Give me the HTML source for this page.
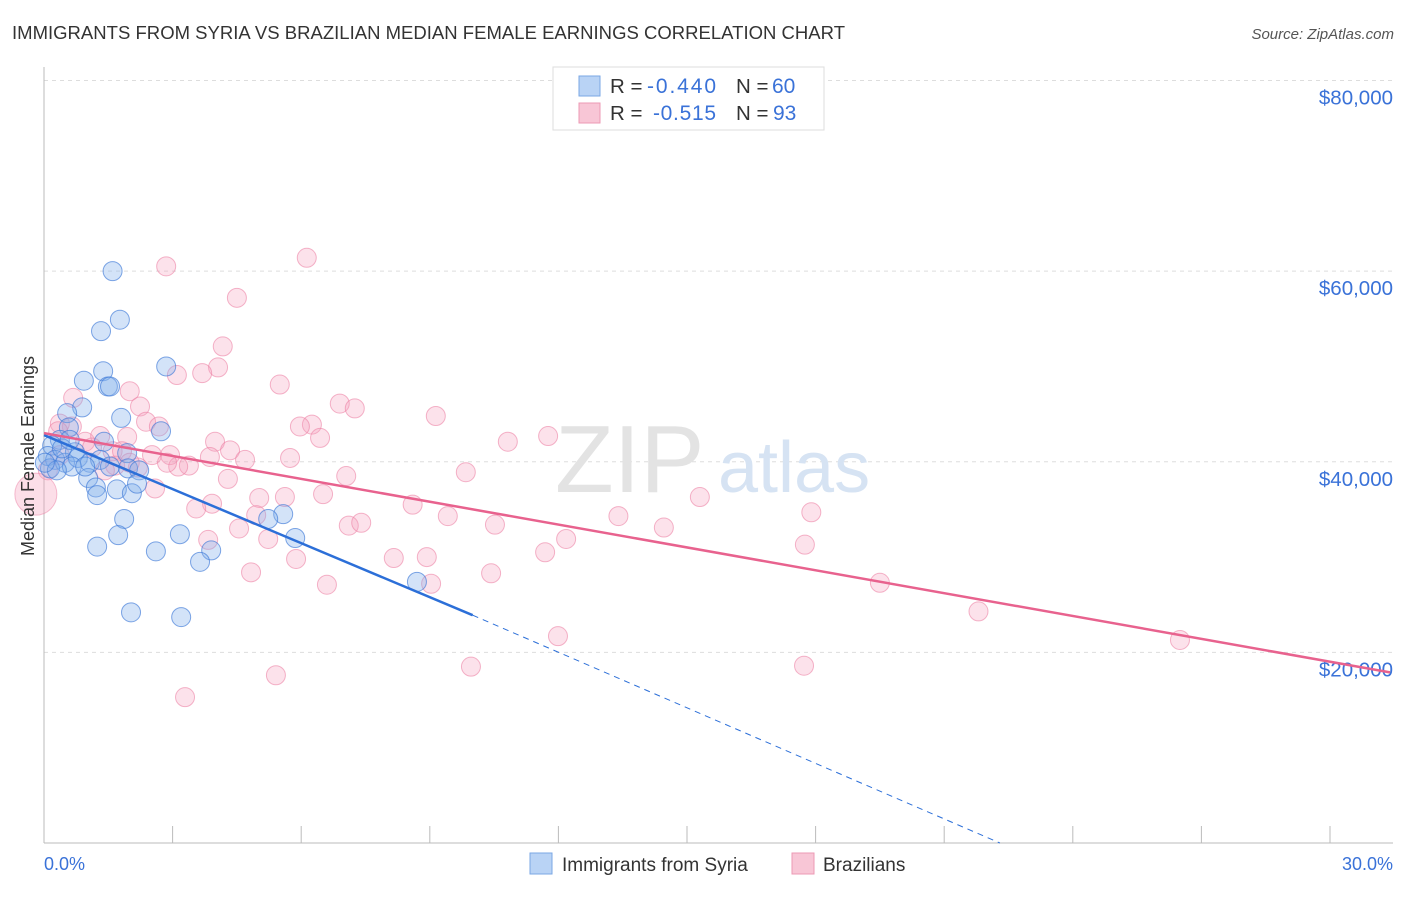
<!DOCTYPE html>
<html><head><meta charset="utf-8"><style>
body{margin:0;background:#fff;font-family:"Liberation Sans",sans-serif}
svg text{font-family:"Liberation Sans",sans-serif}
</style></head><body>
<svg id="chart" width="1406" height="892">
<text x="12" y="39" font-size="18.5" fill="#333" textLength="833">IMMIGRANTS FROM SYRIA VS BRAZILIAN MEDIAN FEMALE EARNINGS CORRELATION CHART</text>
<text x="1394" y="39" font-size="15" fill="#555" font-style="italic" text-anchor="end">Source: ZipAtlas.com</text>
<g id="grid"></g>
<text x="555" y="492" font-size="96" fill="#e3e3e3" font-family="Liberation Serif">ZIP</text>
<text x="718" y="492" font-size="72" fill="#d6e3f3">atlas</text>
<g id="pts"></g>
<g id="lines"></g>
<g>
<rect x="553" y="67" width="271" height="63" fill="#fff" stroke="#ddd"/>
<rect x="579" y="76" width="21" height="20" fill="#b9d3f5" stroke="#7aa7e4"/>
<rect x="579" y="103" width="21" height="20" fill="#f8c6d6" stroke="#ec9ab4"/>
<text x="610" y="93" font-size="20.5" fill="#333">R =</text>
<text x="647" y="93" font-size="21" fill="#3a72d8" textLength="69">-0.440</text>
<text x="736" y="93" font-size="20.5" fill="#333">N =</text>
<text x="772" y="93" font-size="21" fill="#3a72d8">60</text>
<text x="610" y="120" font-size="20.5" fill="#333">R =</text>
<text x="653" y="120" font-size="21" fill="#3a72d8" textLength="63">-0.515</text>
<text x="736" y="120" font-size="20.5" fill="#333">N =</text>
<text x="773" y="120" font-size="21" fill="#3a72d8">93</text>
</g>
<text transform="translate(34,456) rotate(-90)" font-size="18" fill="#333" text-anchor="middle">Median Female Earnings</text>
<text x="44" y="870" font-size="18" fill="#3a72d8">0.0%</text>
<text x="1393" y="870" font-size="18" fill="#3a72d8" text-anchor="end">30.0%</text>
<g>
<rect x="530" y="853" width="22" height="21" fill="#b9d3f5" stroke="#7aa7e4"/>
<text x="562" y="871" font-size="19" fill="#333">Immigrants from Syria</text>
<rect x="792" y="853" width="22" height="21" fill="#f8c6d6" stroke="#ec9ab4"/>
<text x="823" y="871" font-size="19" fill="#333">Brazilians</text>
</g>
</svg>
<script>
const yTicks=[20000,40000,60000,80000];
const yTickLabels=["$20,000","$40,000","$60,000","$80,000"];
const xTicks=[0,3,6,9,12,15,18,21,24,27,30];
const syriaX=[1.6,1.77,1.33,2.85,1.38,0.93,1.49,1.54,0.89,0.54,1.8,0.58,2.73,1.4,0.37,0.19,0.72,0.09,0.26,0.49,0.79,1.07,1.31,1.94,0.65,0.14,0.3,1.96,2.22,1.03,1.7,1.21,1.24,2.05,2.17,1.87,5.58,5.23,5.86,1.73,3.17,1.24,2.61,3.9,3.64,8.7,2.03,3.2,0.02,0.42,0.96,1.54,0.6];
const syriaY=[60000,54900,53700,50000,49500,48500,47900,47900,45700,45100,44600,43600,43200,42100,42300,41700,41000,40600,40200,39900,40400,39900,40200,40900,39500,39300,39100,39300,39100,38300,37100,37300,36500,36700,37700,34000,34500,34000,32000,32300,32400,31100,30600,30700,29500,27400,24200,23700,39900,41400,39500,39500,42300];
const brazX=[2.85,6.13,4.5,4.17,4.06,3.1,3.69,5.5,2.0,6.9,7.25,2.24,9.14,2.38,2.68,6.25,5.97,11.76,10.82,6.44,3.99,4.34,1.94,0.96,0.65,0.37,0.33,0.68,1.31,2.52,2.94,1.6,4.69,5.74,3.38,3.13,2.87,2.19,1.66,9.84,7.05,4.29,2.59,6.51,5.02,5.62,15.3,3.92,8.6,3.55,9.42,13.4,17.9,4.95,7.11,7.4,4.55,10.52,14.46,12.18,5.23,3.83,17.75,11.69,8.16,8.93,5.88,4.83,10.43,6.6,9.03,19.5,21.8,11.99,26.5,9.96,17.73,5.41,3.29,0.09,0.37,1.12,1.82,1.42,2.0,3.87];
const brazY=[60500,61400,57200,52100,49900,49100,49300,48100,47400,46100,45600,45800,44800,44200,43700,43900,43700,42700,42100,42500,42100,41200,42600,42100,43700,44000,43200,46700,42700,40700,40700,41100,40200,40400,39600,39500,39900,39400,39600,38900,38500,38200,37200,36600,36200,36300,36300,35600,35500,35100,34300,34300,34700,34400,33300,33600,33000,33400,33100,31900,31900,31800,31300,30500,29900,30000,29800,28400,28300,27100,27200,27300,24300,21700,21300,18500,18600,17600,15300,39100,40700,41500,41100,39100,39900,40500];
const bigX=[-0.19], bigY=[36600];
const syriaTrend=[[0,42800],[10,23900],[22.3,0]];
const brazTrend=[[0,43000],[31.4,17900]];
const NS="http://www.w3.org/2000/svg";
const sx=v=>44+v*(1330-44)/30;
const sy=v=>843-v*(843-80.5)/80000;
function mk(t,a,p){const e=document.createElementNS(NS,t);for(const k in a)e.setAttribute(k,a[k]);p.appendChild(e);return e;}
const grid=document.getElementById('grid');
yTicks.forEach((v,i)=>{
 const l=mk('line',{x1:44,x2:1393,y1:sy(v),y2:sy(v),stroke:'#ddd','stroke-dasharray':'4,4'},grid);
 
 
 const t=mk('text',{x:1393,y:sy(v)+24,'font-size':20.5,fill:'#3a72d8','text-anchor':'end'},grid);
 t.textContent=yTickLabels[i];
 
 
});
mk('line',{x1:44,x2:44,y1:67,y2:843,stroke:'#bbb'},grid);
mk('line',{x1:44,x2:1393,y1:843,y2:843,stroke:'#bbb'},grid);
xTicks.forEach(v=>{const l=mk('line',{x1:sx(v),x2:sx(v),y1:826,y2:843,stroke:'#bbb'},grid);
 
 });
const pts=document.getElementById('pts');
brazX.forEach((x,i)=>{const c=mk('circle',{cx:sx(x),cy:sy(brazY[i]),r:9.5,fill:'rgba(245,160,188,0.3)',stroke:'rgba(236,130,165,0.6)'},pts);
 
 });
bigX.forEach((x,i)=>{const c=mk('circle',{cx:sx(x),cy:sy(bigY[i]),r:21,fill:'rgba(245,160,188,0.35)',stroke:'rgba(236,130,165,0.5)'},pts);
 
 });
syriaX.forEach((x,i)=>{const c=mk('circle',{cx:sx(x),cy:sy(syriaY[i]),r:9.5,fill:'rgba(130,175,235,0.35)',stroke:'rgba(60,120,215,0.65)'},pts);
 
 });
const lines=document.getElementById('lines');
let l=mk('line',{x1:sx(syriaTrend[0][0]),y1:sy(syriaTrend[0][1]),x2:sx(syriaTrend[1][0]),y2:sy(syriaTrend[1][1]),stroke:'#2c6fd8','stroke-width':2.5},lines);


l=mk('line',{x1:sx(syriaTrend[1][0]),y1:sy(syriaTrend[1][1]),x2:sx(syriaTrend[2][0]),y2:sy(syriaTrend[2][1]),stroke:'#2c6fd8','stroke-width':1,'stroke-dasharray':'6,5'},lines);


l=mk('line',{x1:sx(brazTrend[0][0]),y1:sy(brazTrend[0][1]),x2:sx(brazTrend[1][0]),y2:sy(brazTrend[1][1]),stroke:'#e8628e','stroke-width':2.5},lines);


</script>
</body></html>
